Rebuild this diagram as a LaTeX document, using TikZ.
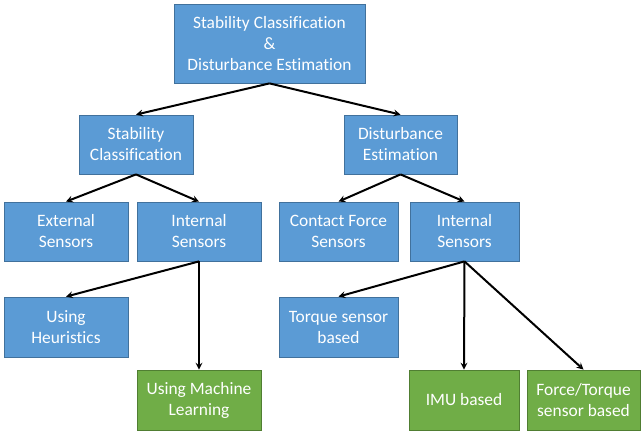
\documentclass[tikz,border=0pt]{standalone}
\usepackage{fontspec}
\setmainfont[Ligatures=NoCommon]{Carlito}
\usepackage{tikz}
\usetikzlibrary{shapes,arrows}
\definecolor{bleufond}{HTML}{5B9BD5}
\definecolor{bleubord}{HTML}{41719C}
\definecolor{vertfond}{HTML}{70AD47}
\definecolor{vertbord}{HTML}{507E32}

\begin{document}
\begin{tikzpicture}[x=1pt,y=-1pt]
	\tikzstyle{bloc}=[rectangle,draw=bleubord,line width=0.8pt,fill=bleufond,
	text=white,inner sep=0pt,minimum height=59pt,align=center,
	font=\fontsize{17.4}{21}\selectfont]
	\tikzstyle{feuille}=[bloc,draw=vertbord,fill=vertfond]

	\useasboundingbox (0,0) rectangle (642,433);

	\node[bloc,minimum width=191pt,minimum height=79pt] (racine) at (269.5,43.5)
	{Stability Classification\\\&\\Disturbance Estimation};
	\node[bloc,minimum width=114pt] (stab) at (136,144.5) {Stability\\Classification};
	\node[bloc,minimum width=113pt] (dist) at (400.5,144.5) {Disturbance\\Estimation};
	\node[bloc,minimum width=124pt] (ext) at (66,231.5) {External\\Sensors};
	\node[bloc,minimum width=124pt] (int1) at (199,231.5) {Internal\\Sensors};
	\node[bloc,minimum width=119pt] (contact) at (338.5,231.5) {Contact Force\\Sensors};
	\node[bloc,minimum width=109pt] (int2) at (464.5,231.5) {Internal\\Sensors};
	\node[bloc,minimum width=124pt,minimum height=60pt] (heur) at (66,327)
	{Using\\Heuristics};
	\node[bloc,minimum width=119pt,minimum height=60pt] (couple) at (338.5,327)
	{Torque sensor\\based};
	\node[feuille,minimum width=124pt,minimum height=60pt] (ml) at (199,400)
	{Using Machine\\Learning};
	\node[feuille,minimum width=110pt,minimum height=60pt] (imu) at (464,400)
	{IMU based};
	\node[feuille,minimum width=113pt,minimum height=60pt] (ft) at (583.5,400)
	{Force/Torque\\sensor based};

	\tikzstyle{fleche}=[->,>=stealth,line width=2pt]

	\draw[fleche] (racine.south) -- (stab.north);
	\draw[fleche] (racine.south) -- (dist.north);
	\draw[fleche] (stab.south) -- (ext.north);
	\draw[fleche] (stab.south) -- (int1.north);
	\draw[fleche] (dist.south) -- (contact.north);
	\draw[fleche] (dist.south) -- (int2.north);
	\draw[fleche] (int1.south) -- (heur.north);
	\draw[fleche] (int1.south) -- (ml.north);
	\draw[fleche] (int2.south) -- (couple.north);
	\draw[fleche] (int2.south) -- (imu.north);
	\draw[fleche] (int2.south) -- (ft.north);
\end{tikzpicture}
\end{document}
